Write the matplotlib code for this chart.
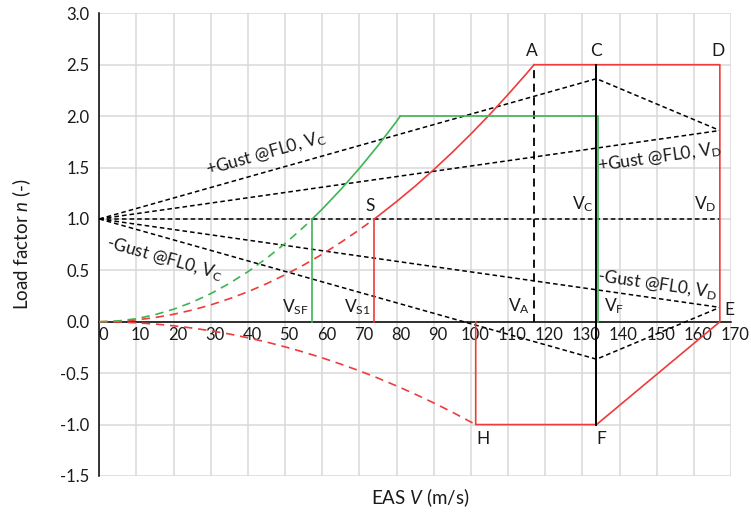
import numpy as np
import matplotlib
matplotlib.use('Agg')
import matplotlib.pyplot as plt
from matplotlib import transforms

plt.rcParams['font.family'] = ['Lato', 'DejaVu Sans']
plt.rcParams['mathtext.fontset'] = 'custom'
plt.rcParams['mathtext.rm'] = 'Lato'
plt.rcParams['mathtext.it'] = 'Lato:italic'
plt.rcParams['mathtext.bf'] = 'Lato:bold'

# ---------------- data (EAS in m/s, load factor n) ----------------
V_SF = 57.3
V_S1 = 74.0
V_A = 117.0
V_C = 133.8
V_F = 134.2
V_D = 167.0
V_H = 101.3
n_max = 2.5
n_flap = 2.0
n_min = -1.0

# positive stall curve (clean), dashed part below n = 1
stall_dash_V = [0, 5, 10, 15, 20, 25, 30, 35, 40, 45, 50, 55, 60, 65, 70, 74]
stall_dash_n = [0, 0.005, 0.018, 0.041, 0.073, 0.114, 0.164, 0.224, 0.292,
                0.370, 0.457, 0.552, 0.657, 0.772, 0.895, 1.0]
stall_V = [74, 75, 80, 85, 90, 95, 100, 105, 110, 115, 117]
stall_n = [1.0, 1.027, 1.169, 1.319, 1.479, 1.648, 1.826, 2.013, 2.210, 2.415, 2.5]

# flap stall curve
flap_dash_V = [0, 5, 10, 15, 20, 25, 30, 35, 40, 45, 50, 55, 57.3]
flap_dash_n = [0, 0.008, 0.030, 0.069, 0.122, 0.190, 0.274, 0.373, 0.487,
               0.617, 0.761, 0.921, 1.0]
flap_V = [57.3, 60, 65, 70, 75, 80, 81]
flap_n = [1.0, 1.096, 1.287, 1.492, 1.713, 1.949, 2.0]

# negative stall curve
neg_V = [0, 5, 10, 15, 20, 25, 30, 35, 40, 45, 50, 55, 60, 65, 70, 75, 80,
         85, 90, 95, 101.3]
neg_n = [0, -0.002, -0.010, -0.022, -0.039, -0.061, -0.088, -0.119, -0.156,
         -0.197, -0.244, -0.295, -0.351, -0.412, -0.477, -0.548, -0.624,
         -0.704, -0.789, -0.879, -1.0]

# manoeuvre envelope A-D-(VD,0)-F-H-(VH,0)
env_V = [V_A, V_D, V_D, V_C, V_H, V_H]
env_n = [n_max, n_max, 0, n_min, n_min, 0]

# gust lines
gust_V = [0, V_C, V_D]
gust_pos_n = [1, 2.364, 1.86]
gust_neg_n = [1, -0.364, 0.14]
gustD_V = [0, V_D]
gustD_pos_n = [1, 1.86]
gustD_neg_n = [1, 0.14]
one_V = [0, V_D]
one_n = [1, 1]

x_ticks = list(range(0, 171, 10))
y_ticks = [-1.5, -1.0, -0.5, 0.0, 0.5, 1.0, 1.5, 2.0, 2.5, 3.0]

RED = '#EE3B3B'
GREEN = '#3CB653'
GRID = '#D9D9D9'
TXT = '#1a1a1a'

W, H = 751, 514
fig = plt.figure(figsize=(W / 100, H / 100), dpi=100)
L, R, T, B = 99.3, 731.0, 13.3, 476.0
ax = fig.add_axes([L / W, 1 - B / H, (R - L) / W, (B - T) / H])
ax.set_xlim(0, 170)
ax.set_ylim(-1.5, 3.0)
ax.set_xticks(x_ticks)
ax.set_yticks(y_ticks)
ax.set_yticklabels([f'{v:.1f}' for v in y_ticks])
ax.grid(True, color=GRID, lw=1.1, zorder=0)
ax.set_axisbelow(True)
for s in ['top', 'right']:
    ax.spines[s].set_visible(False)
ax.spines['bottom'].set_position(('data', 0))
ax.spines['bottom'].set_linewidth(1.1)
ax.spines['left'].set_linewidth(1.1)
ax.spines['bottom'].set_zorder(1)
ax.tick_params(axis='both', length=0, labelsize=12, labelcolor=TXT)
ax.tick_params(axis='y', pad=7)
ax.tick_params(axis='x', pad=3.5)
off = transforms.ScaledTranslation(4 / 100, 0, fig.dpi_scale_trans)
for lab in ax.get_xticklabels():
    lab.set_transform(lab.get_transform() + off)

gust_kw = dict(color='black', lw=1.1, dashes=(3, 2), zorder=3)
ax.plot(gust_V, gust_pos_n, **gust_kw)
ax.plot(gust_V, gust_neg_n, **gust_kw)
ax.plot(gustD_V, gustD_pos_n, **gust_kw)
ax.plot(gustD_V, gustD_neg_n, **gust_kw)
ax.plot(one_V, one_n, **gust_kw)

# VA dashed
ax.plot([V_A, V_A], [0, n_max], color='black', lw=1.3, dashes=(4.5, 3), zorder=3)

# stall curves
ax.plot(stall_dash_V, stall_dash_n, color=RED, lw=1.2, dashes=(5, 3.5), zorder=4)
ax.plot(stall_V, stall_n, color=RED, lw=1.2, zorder=4)
ax.plot(neg_V, neg_n, color=RED, lw=1.2, dashes=(5, 3.5), zorder=4)
ax.plot(env_V, env_n, color=RED, lw=1.2, zorder=4)
ax.plot([V_S1, V_S1], [0, 1], color=RED, lw=1.2, zorder=4)

ax.plot(flap_dash_V, flap_dash_n, color=GREEN, lw=1.2, dashes=(5, 3.5), zorder=4)
ax.plot(flap_V, flap_n, color=GREEN, lw=1.2, zorder=4)
ax.plot([flap_V[-1], V_F, V_F], [n_flap, n_flap, 0], color=GREEN, lw=1.2, zorder=4)
ax.plot([V_SF, V_SF], [0, 1], color=GREEN, lw=1.2, zorder=4)

# VC solid
ax.plot([V_C, V_C], [n_max, n_min], color='black', lw=1.4, zorder=5)

fs = 12.5
tk = dict(fontsize=fs, color=TXT, zorder=6)
ax.text(V_A - 0.6, 2.56, 'A', ha='center', va='bottom', **tk)
ax.text(V_C, 2.56, 'C', ha='center', va='bottom', **tk)
ax.text(V_D - 0.6, 2.56, 'D', ha='center', va='bottom', **tk)
ax.text(73.0, 1.13, 'S', ha='center', va='center', **tk)
ax.text(V_C - 0.8, 1.05, r'V$_{\mathrm{C}}$', ha='right', va='bottom', **tk)
ax.text(V_D - 0.8, 1.05, r'V$_{\mathrm{D}}$', ha='right', va='bottom', **tk)
ax.text(V_A - 1.0, 0.06, r'V$_{\mathrm{A}}$', ha='right', va='bottom', **tk)
ax.text(V_C + 2.0, 0.06, r'V$_{\mathrm{F}}$', ha='left', va='bottom', **tk)
ax.text(V_SF - 1.0, 0.05, r'V$_{\mathrm{SF}}$', ha='right', va='bottom', **tk)
ax.text(V_S1 - 1.0, 0.05, r'V$_{\mathrm{S1}}$', ha='right', va='bottom', **tk)
ax.text(V_H + 0.2, -1.06, 'H', ha='left', va='top', **tk)
ax.text(V_C, -1.06, 'F', ha='left', va='top', **tk)
ax.text(V_D + 1.2, 0.11, 'E', ha='left', va='center', **tk)


def ang(x0, y0, x1, y1):
    p0 = ax.transData.transform((x0, y0))
    p1 = ax.transData.transform((x1, y1))
    return np.degrees(np.arctan2(p1[1] - p0[1], p1[0] - p0[0]))


rk = dict(ha='center', va='center', rotation_mode='anchor', **tk)
ax.text(45.0, 1.63, r'+Gust @FL0, V$_{\mathrm{C}}$',
        rotation=ang(0, 1, V_C, gust_pos_n[1]), **rk)
ax.text(150.8, 1.60, r'+Gust @FL0, V$_{\mathrm{D}}$',
        rotation=ang(0, 1, V_D, gustD_pos_n[1]), **rk)
ax.text(17.6, 0.61, r'-Gust @FL0, V$_{\mathrm{C}}$',
        rotation=ang(0, 1, V_C, gust_neg_n[1]), **rk)
ax.text(150.3, 0.36, r'-Gust @FL0, V$_{\mathrm{D}}$',
        rotation=ang(0, 1, V_D, gustD_neg_n[1]), **rk)

fig.text(22 / W, 1 - 244.5 / H, r'Load factor $\mathit{n}$ (-)', rotation=90,
         ha='center', va='center', fontsize=13.5, color=TXT)
fig.text(420 / W, 1 - 498 / H, r'EAS $\mathit{V}$ (m/s)',
         ha='center', va='center', fontsize=13.5, color=TXT)

fig.savefig('out.png', dpi=100)
